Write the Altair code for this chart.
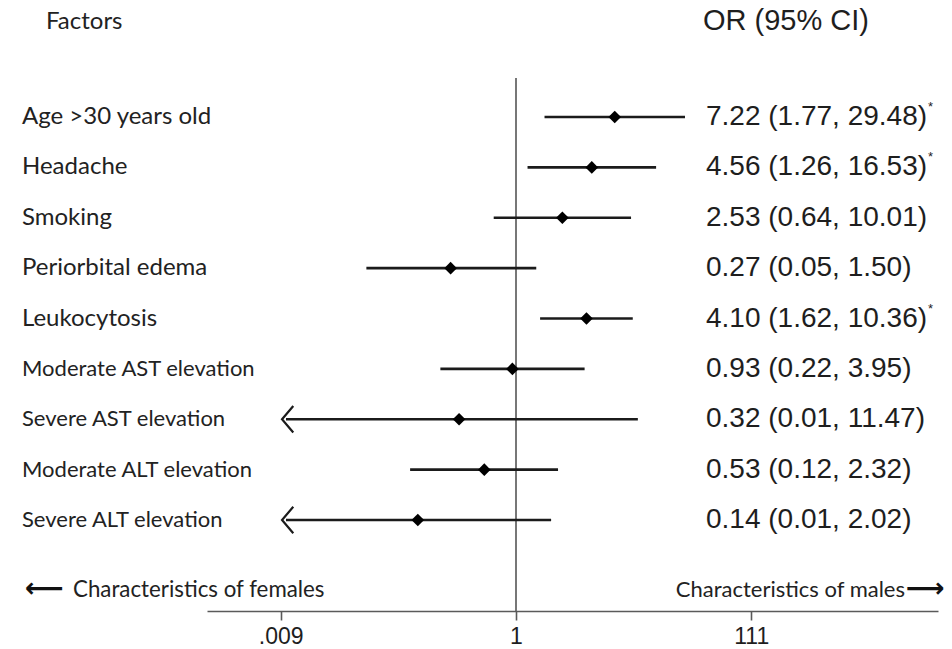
import altair as alt
import pandas as pd

# Odds ratios (95% CI) for each factor
factors = [
    "Age >30 years old",
    "Headache",
    "Smoking",
    "Periorbital edema",
    "Leukocytosis",
    "Moderate AST elevation",
    "Severe AST elevation",
    "Moderate ALT elevation",
    "Severe ALT elevation",
]
odds_ratio = [7.22, 4.56, 2.53, 0.27, 4.10, 0.93, 0.32, 0.53, 0.14]
ci_lower = [1.77, 1.26, 0.64, 0.05, 1.62, 0.22, 0.01, 0.12, 0.01]
ci_upper = [29.48, 16.53, 10.01, 1.50, 10.36, 3.95, 11.47, 2.32, 2.02]
significant = [True, True, False, False, True, False, False, False, False]

tick_values = [0.009, 1, 111]
tick_labels = [".009", "1", "111"]
null_or = 1
lower_limit = 0.01  # intervals reaching this bound are drawn with an arrow

df = pd.DataFrame({
    "row": list(range(len(factors))),
    "factor": factors,
    "or": odds_ratio,
    "lower": ci_lower,
    "upper": ci_upper,
    "sig": significant,
})
df["label"] = [f"{o:.2f} ({l:.2f}, {u:.2f})" for o, l, u in zip(odds_ratio, ci_lower, ci_upper)]
df["arrow"] = df["lower"] <= lower_limit

single = pd.DataFrame({"k": [0]})  # one-row source for free-standing text

# layout (pixels)
LEFT, TOP, W, H = 207, 0, 731, 611
ROW0, ROW_STEP = 117, 50.375
PX_PER_DECADE = 115.0
ONE_X = 516 - LEFT

x_dom = [10 ** (-ONE_X / PX_PER_DECADE), 10 ** ((W - ONE_X) / PX_PER_DECADE)]
y_dom = [-ROW0 / ROW_STEP, (H - ROW0) / ROW_STEP]

xscale = alt.Scale(type="log", domain=x_dom, nice=False)
yscale = alt.Scale(domain=y_dom, reverse=True, nice=False, zero=False)
Y = alt.Y("row:Q", scale=yscale, axis=None)

label_expr = "datum.label"
for v, t in reversed(list(zip(tick_values, tick_labels))):
    label_expr = f"datum.value == {v} ? '{t}' : ({label_expr})"

x_axis = alt.Axis(values=tick_values, title=None, grid=False, labelExpr=label_expr)


def X(field):
    return alt.X(field, scale=xscale, axis=x_axis, title=None)


base = alt.Chart(df)
INK = "#1b1b1b"

ci = base.mark_rule(strokeWidth=2.6, color=INK).encode(
    x=X("lower:Q"), x2="upper:Q", y=Y
)

chevron = "M 0.55 -1 L -0.3 0 L 0.55 1"
arrows = base.transform_filter("datum.arrow").mark_point(
    shape=chevron, filled=False, strokeWidth=2.2, size=700, color=INK, opacity=1
).encode(x=X("lower:Q"), y=Y)

diamonds = base.mark_point(
    shape="diamond", filled=True, size=160, color="#000000", opacity=1
).encode(x=X("or:Q"), y=Y)

ref_line = alt.Chart(pd.DataFrame({"lower": [null_or]})).mark_rule(
    color="#555555", strokeWidth=1.6
).encode(x=X("lower:Q"), y=alt.value(78), y2=alt.value(H))

factor_text = base.mark_text(
    align="left", baseline="middle", font="Lato", color="#222222"
).encode(
    x=alt.value(22 - LEFT),
    y=Y,
    text="factor:N",
    size=alt.condition("datum.row < 5", alt.value(24), alt.value(22)),
)

OR_X = 706 - LEFT
OR_FS = 28
or_text = base.mark_text(
    align="left", baseline="middle", font="Liberation Sans", fontSize=OR_FS, color="#1e1e1e"
).encode(x=alt.value(OR_X), y=Y, text="label:N")

# "d.dd (d.dd, dd.dd)" is 7.894 em wide in Arial metrics
star = base.transform_filter("datum.sig").mark_text(
    align="left", baseline="middle", font="Liberation Sans", fontSize=13, dy=-10, color="#1e1e1e"
).encode(x=alt.value(OR_X + 7.894 * OR_FS + 1), y=Y, text=alt.value("*"))


def free_text(txt, x, y, font, size, align="left", color="#222222", weight="normal"):
    return alt.Chart(single).mark_text(
        align=align, baseline="middle", font=font, fontSize=size, color=color,
        fontWeight=weight, text=txt,
    ).encode(x=alt.value(x - LEFT), y=alt.value(y))


hdr_factors = free_text("Factors", 46, 22, "Lato", 24)
hdr_or = free_text("OR (95% CI)", 703, 21, "Liberation Sans", 29, color="#1e1e1e")
females = free_text("Characteristics of females", 73, 590, "Lato", 22.3)
males = free_text("Characteristics of males", 905, 590, "Lato", 22, align="right")
left_arrow = free_text("⟵", 25, 589, "DejaVu Sans", 27, color="#111111", weight="bold")
right_arrow = free_text("⟶", 906, 589, "DejaVu Sans", 27, color="#111111", weight="bold")

chart = alt.layer(
    ref_line, ci, arrows, diamonds, factor_text, or_text, star,
    hdr_factors, hdr_or, females, males, left_arrow, right_arrow,
).properties(
    width=W,
    height=H,
    autosize=alt.AutoSizeParams(type="none"),
    padding={"left": LEFT, "top": TOP, "right": 952 - LEFT - W, "bottom": 649 - TOP - H},
    background="white",
).configure_view(stroke=None).configure_axis(
    domainColor="#5a5a5a",
    domainWidth=1.6,
    tickColor="#5a5a5a",
    tickWidth=1.6,
    tickSize=9,
    labelFont="Liberation Sans",
    labelFontSize=23,
    labelColor="#1e1e1e",
    labelPadding=5,
)

chart.save("out.html", embed_options={"renderer": "svg", "actions": False})
